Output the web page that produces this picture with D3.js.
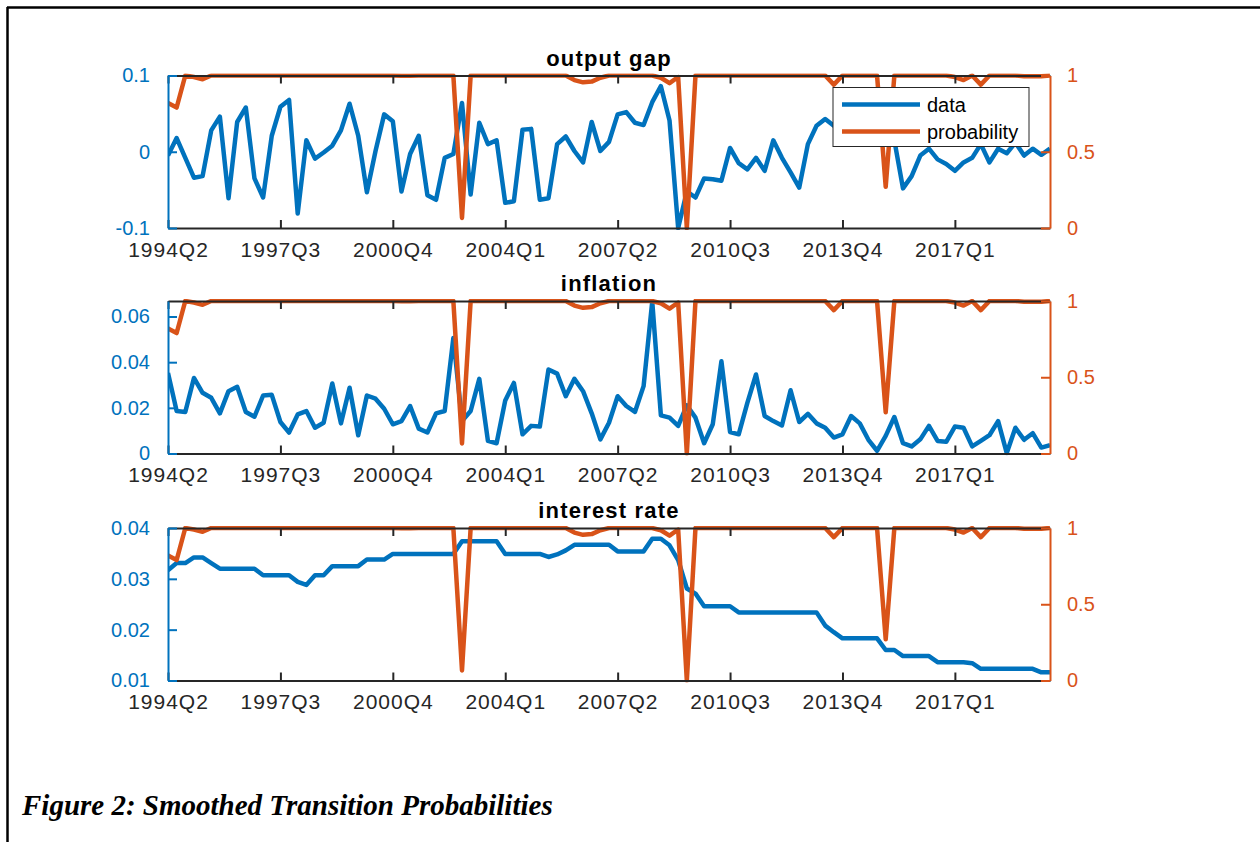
<!DOCTYPE html>
<html>
<head>
<meta charset="utf-8">
<script src="https://cdn.jsdelivr.net/npm/d3@7"></script>
<style>
body { margin: 0; background: #fff; }
svg text { font-family: "Liberation Sans", Arial, sans-serif; }
</style>
</head>
<body>
<script>
// quarterly data, 1994Q2 .. 2019Q4
var tickLabels = ["1994Q2", "1997Q3", "2000Q4", "2004Q1", "2007Q2", "2010Q3", "2013Q4", "2017Q1"];

var outputGap = [-0.005, 0.018, -0.008, -0.034, -0.032, 0.028, 0.046, -0.061, 0.039, 0.058,
  -0.035, -0.060, 0.021, 0.059, 0.068, -0.081, 0.015, -0.009, -0.001, 0.008,
  0.028, 0.063, 0.021, -0.053, 0.001, 0.049, 0.040, -0.052, -0.003, 0.021,
  -0.057, -0.063, -0.008, -0.003, 0.064, -0.056, 0.038, 0.010, 0.015, -0.067,
  -0.065, 0.029, 0.030, -0.063, -0.061, 0.010, 0.020, 0.001, -0.014, 0.039,
  0.001, 0.013, 0.049, 0.052, 0.038, 0.035, 0.065, 0.086, 0.041, -0.100,
  -0.052, -0.060, -0.035, -0.036, -0.038, 0.005, -0.015, -0.023, -0.008, -0.025,
  0.015, -0.008, -0.027, -0.047, 0.010, 0.034, 0.043, 0.034, 0.030, 0.025,
  0.030, 0.028, 0.020, 0.025, 0.015, -0.048, -0.032, -0.005, 0.004, -0.010,
  -0.016, -0.025, -0.014, -0.008, 0.010, -0.014, 0.004, -0.002, 0.012, -0.005,
  0.004, -0.004, 0.004];

var inflation = [0.0353, 0.0186, 0.0182, 0.0331, 0.0266, 0.0244, 0.0176, 0.0273, 0.0292, 0.0182,
  0.0161, 0.0254, 0.0257, 0.0138, 0.0092, 0.0171, 0.0186, 0.0113, 0.0135, 0.0307,
  0.0132, 0.0288, 0.0080, 0.0254, 0.0240, 0.0196, 0.0128, 0.0142, 0.0208, 0.0109,
  0.0092, 0.0176, 0.0186, 0.0506, 0.0142, 0.0186, 0.0327, 0.0055, 0.0045, 0.0232,
  0.0309, 0.0084, 0.0121, 0.0118, 0.0368, 0.0350, 0.0251, 0.0327, 0.0273, 0.0176,
  0.0062, 0.0135, 0.0251, 0.0208, 0.0182, 0.0295, 0.0666, 0.0167, 0.0157, 0.0121,
  0.0211, 0.0157, 0.0045, 0.0128, 0.0404, 0.0094, 0.0084, 0.0222, 0.0346, 0.0164,
  0.0142, 0.0123, 0.0277, 0.0138, 0.0174, 0.0132, 0.0113, 0.0070, 0.0084, 0.0164,
  0.0132, 0.0060, 0.0012, 0.0077, 0.0160, 0.0045, 0.0031, 0.0062, 0.0121, 0.0055,
  0.0051, 0.0118, 0.0113, 0.0031, 0.0055, 0.0080, 0.0142, 0.0002, 0.0113, 0.0060,
  0.0089, 0.0026, 0.0036];

var interestRate = [0.0317, 0.0331, 0.0331, 0.0342, 0.0342, 0.0331, 0.0320, 0.0320, 0.0320, 0.0320,
  0.0320, 0.0307, 0.0307, 0.0307, 0.0307, 0.0294, 0.0288, 0.0307, 0.0307, 0.0325,
  0.0325, 0.0325, 0.0325, 0.0338, 0.0338, 0.0338, 0.0349, 0.0349, 0.0349, 0.0349,
  0.0349, 0.0349, 0.0349, 0.0349, 0.0374, 0.0374, 0.0374, 0.0374, 0.0374, 0.0349,
  0.0349, 0.0349, 0.0349, 0.0349, 0.0343, 0.0348, 0.0356, 0.0367, 0.0367, 0.0367,
  0.0367, 0.0367, 0.0354, 0.0354, 0.0354, 0.0354, 0.0379, 0.0379, 0.0366, 0.0337,
  0.0281, 0.0271, 0.0246, 0.0246, 0.0246, 0.0246, 0.0234, 0.0234, 0.0234, 0.0234,
  0.0234, 0.0234, 0.0234, 0.0234, 0.0234, 0.0234, 0.0208, 0.0195, 0.0183, 0.0183,
  0.0183, 0.0183, 0.0183, 0.0160, 0.0160, 0.0148, 0.0148, 0.0148, 0.0148, 0.0136,
  0.0136, 0.0136, 0.0136, 0.0134, 0.0123, 0.0123, 0.0123, 0.0123, 0.0123, 0.0123,
  0.0123, 0.0116, 0.0116];

var probability = [0.82, 0.79, 1.00, 0.99, 0.975, 1.00, 1.00, 1.00, 1.00, 1.00,
  1.00, 1.00, 1.00, 1.00, 1.00, 1.00, 1.00, 1.00, 1.00, 1.00,
  1.00, 1.00, 1.00, 1.00, 1.00, 1.00, 1.00, 0.998, 0.998, 1.00,
  1.00, 1.00, 1.00, 1.00, 0.066, 1.00, 1.00, 1.00, 1.00, 1.00,
  1.00, 1.00, 1.00, 1.00, 1.00, 1.00, 1.00, 0.97, 0.955, 0.96,
  0.985, 1.00, 1.00, 1.00, 1.00, 1.00, 1.00, 0.985, 0.95, 0.99,
  0.00, 1.00, 1.00, 1.00, 1.00, 1.00, 1.00, 1.00, 1.00, 1.00,
  1.00, 1.00, 1.00, 1.00, 1.00, 1.00, 1.00, 0.94, 1.00, 1.00,
  1.00, 1.00, 1.00, 0.27, 1.00, 1.00, 1.00, 1.00, 1.00, 1.00,
  1.00, 0.99, 0.97, 1.00, 0.94, 1.00, 1.00, 1.00, 1.00, 0.995,
  0.995, 0.995, 1.00];

var titles = ["output gap", "inflation", "interest rate"];
var series = [outputGap, inflation, interestRate];
var leftDomains = [[-0.1, 0.1], [0, 0.0668], [0.01, 0.04]];
var leftTicks = [[-0.1, 0, 0.1], [0, 0.02, 0.04, 0.06], [0.01, 0.02, 0.03, 0.04]];
var rightTicks = [0, 0.5, 1];

var quarters = [];
for (var k = 0; k < outputGap.length; k++) {
  var q = 2 + k;
  quarters.push((1994 + Math.floor((q - 1) / 4)) + "Q" + (((q - 1) % 4) + 1));
}

var blue = "#0072BD", orange = "#D95319", axisGray = "#262626";
var plotLeft = 168, plotRight = 1050, panelTops = [75.5, 301, 528], panelH = 152.5;
var fmt = function(d) { return d3.format("~g")(d).replace("\u2212", "-"); };

var svg = d3.select("body").append("svg")
    .attr("width", 1260)
    .attr("height", 842);

// page frame (top and left edges only)
svg.append("line").attr("x1", 7).attr("y1", 7.5).attr("x2", 1260).attr("y2", 7.5)
    .style("stroke", "#000").style("stroke-width", 2.5);
svg.append("line").attr("x1", 7.5).attr("y1", 7).attr("x2", 7.5).attr("y2", 842)
    .style("stroke", "#000").style("stroke-width", 2.5);

var x = d3.scaleLinear().domain([0, quarters.length - 1]).range([plotLeft, plotRight]);
var tickIdx = tickLabels.map(function(t) { return quarters.indexOf(t); });

function drawPanel(p) {
  var y0 = panelTops[p], y1 = y0 + panelH;
  var yL = d3.scaleLinear().domain(leftDomains[p]).range([y1, y0]);
  var yR = d3.scaleLinear().domain([0, 1]).range([y1, y0]);
  var g = svg.append("g");

  var clipId = "clip" + p;
  g.append("clipPath").attr("id", clipId).append("rect")
      .attr("x", plotLeft).attr("y", y0 - 2).attr("width", plotRight - plotLeft).attr("height", panelH + 4);

  var lineL = d3.line().x(function(d, i) { return x(i); }).y(function(d) { return yL(d); });
  var lineR = d3.line().x(function(d, i) { return x(i); }).y(function(d) { return yR(d); });

  g.append("path").datum(series[p])
      .attr("d", lineL)
      .attr("clip-path", "url(#" + clipId + ")")
      .style("fill", "none").style("stroke", blue).style("stroke-width", 4.5)
      .style("stroke-linejoin", "round");
  g.append("path").datum(probability)
      .attr("d", lineR)
      .attr("clip-path", "url(#" + clipId + ")")
      .style("fill", "none").style("stroke", orange).style("stroke-width", 4.5)
      .style("stroke-linejoin", "round");

  // x axes, bottom with labels and top with ticks only
  var xb = g.append("g").attr("transform", "translate(0," + y1 + ")")
      .call(d3.axisBottom(x).tickValues(tickIdx).tickSizeInner(-8).tickSizeOuter(0)
        .tickFormat(function(d) { return quarters[d]; }));
  var xt = g.append("g").attr("transform", "translate(0," + y0 + ")")
      .call(d3.axisTop(x).tickValues(tickIdx).tickSizeInner(-8).tickSizeOuter(0)
        .tickFormat(""));
  [xb, xt].forEach(function(a) {
    a.select(".domain").style("stroke", axisGray).style("stroke-width", 2);
    a.selectAll(".tick line").style("stroke", axisGray).style("stroke-width", 2);
  });
  xb.selectAll(".tick text").style("font-size", "21px").style("fill", axisGray)
      .attr("dy", "0.71em").attr("y", 14).style("letter-spacing", "1px");

  // left axis
  var ya = g.append("g").attr("transform", "translate(" + plotLeft + ",0)")
      .call(d3.axisLeft(yL).tickValues(leftTicks[p]).tickSizeInner(-9).tickSizeOuter(0)
        .tickPadding(18).tickFormat(fmt));
  ya.select(".domain").style("stroke", blue).style("stroke-width", 2);
  ya.selectAll(".tick line").style("stroke", blue).style("stroke-width", 2);
  ya.selectAll(".tick text").style("font-size", "20px").style("fill", blue);

  // right axis
  var yb = g.append("g").attr("transform", "translate(" + plotRight + ",0)")
      .call(d3.axisRight(yR).tickValues(rightTicks).tickSizeInner(-9).tickSizeOuter(0)
        .tickPadding(17).tickFormat(fmt));
  yb.select(".domain").style("stroke", orange).style("stroke-width", 2);
  yb.selectAll(".tick line").style("stroke", orange).style("stroke-width", 2);
  yb.selectAll(".tick text").style("font-size", "20px").style("fill", orange);

  g.append("text")
      .attr("x", (plotLeft + plotRight) / 2).attr("y", y0 - 10)
      .attr("text-anchor", "middle")
      .style("font-size", "22px").style("font-weight", "bold")
      .style("letter-spacing", "1.2px")
      .text(titles[p]);
}

for (var p = 0; p < 3; p++) drawPanel(p);

// legend in the first panel
var lg = svg.append("g").attr("transform", "translate(833,87.5)");
lg.append("rect").attr("width", 196).attr("height", 59)
    .style("fill", "#fff").style("stroke", axisGray).style("stroke-width", 1);
var legendItems = [{name: "data", color: blue}, {name: "probability", color: orange}];
lg.selectAll(".item").data(legendItems).enter().append("g")
    .attr("transform", function(d, i) { return "translate(0," + (17 + i * 27) + ")"; })
    .each(function(d) {
      var s = d3.select(this);
      s.append("line").attr("x1", 9).attr("x2", 87).attr("y1", 0).attr("y2", 0)
          .style("stroke", d.color).style("stroke-width", 4.5);
      s.append("text").attr("x", 94).attr("y", 0).attr("dy", "0.35em")
          .style("font-size", "20px").style("fill", "#000").text(d.name);
    });

svg.append("text")
    .attr("x", 22).attr("y", 815)
    .style("font-family", "'Liberation Serif', 'Times New Roman', serif")
    .style("font-size", "29px").style("font-weight", "bold").style("font-style", "italic")
    .text("Figure 2: Smoothed Transition Probabilities");
</script>
</body>
</html>
